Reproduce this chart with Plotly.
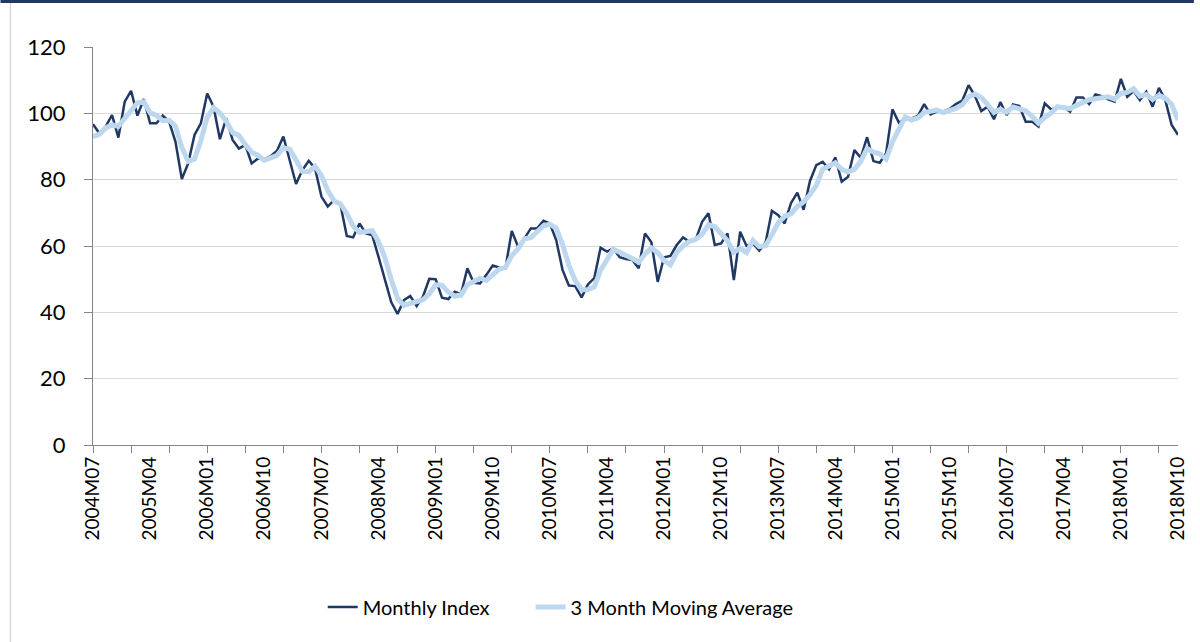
import plotly.graph_objects as go
import pandas as pd

# ---- data ----
months = pd.period_range("2004-07", "2018-10", freq="M").strftime("%YM%m").tolist()

monthly_index = [
    96.7, 94.0, 96.0, 99.5, 92.7, 103.5, 106.8, 99.3, 104.3, 97.0,
    97.0, 99.3, 97.5, 91.4, 80.2, 84.9, 93.5, 97.0, 106.0, 102.0,
    92.2, 98.5, 92.0, 89.4, 90.5, 84.9, 86.4, 86.2, 87.1, 88.7,
    93.0, 85.9, 78.7, 82.9, 85.7, 83.4, 74.9, 71.9, 73.9, 72.4,
    63.0, 62.6, 66.8, 63.8, 63.3, 56.7, 49.9, 43.1, 39.5, 43.7,
    44.9, 41.9, 44.7, 50.1, 50.0, 44.4, 44.0, 46.2, 45.5, 53.3,
    48.9, 48.7, 51.3, 54.1, 53.5, 53.3, 64.5, 59.8, 62.3, 65.3,
    65.3, 67.6, 66.8, 61.8, 52.8, 48.1, 47.9, 44.5, 48.4, 50.3,
    59.5, 58.3, 59.3, 56.6, 56.1, 55.8, 53.3, 63.8, 61.1, 49.2,
    56.6, 57.0, 60.3, 62.6, 61.3, 62.0, 67.3, 69.9, 60.3, 60.8,
    63.8, 49.7, 64.3, 60.0, 60.8, 58.6, 61.0, 70.6, 69.3, 66.8,
    72.9, 76.1, 70.9, 79.6, 84.4, 85.4, 83.1, 86.7, 79.4, 80.9,
    88.9, 86.6, 92.8, 85.6, 85.1, 88.0, 101.2, 97.2, 98.2, 98.5,
    99.2, 102.8, 99.7, 100.5, 100.5, 101.3, 102.8, 103.8, 108.5, 105.2,
    100.7, 102.0, 98.2, 103.4, 99.5, 102.7, 102.2, 97.5, 97.5, 96.0,
    103.0, 101.2, 101.7, 102.0, 100.5, 104.8, 104.8, 102.8, 105.7, 105.2,
    104.2, 103.5, 110.4, 105.0, 106.7, 104.0, 106.5, 102.0, 107.7, 104.0,
    96.5, 93.5,
]

moving_avg_3m = [
    93.0, 93.7, 95.6, 96.5, 96.1, 98.6, 101.0, 103.2, 103.5, 100.2,
    99.4, 97.8, 97.9, 96.1, 89.7, 85.5, 86.2, 91.8, 98.8, 101.7,
    100.1, 97.6, 94.2, 93.3, 90.6, 88.3, 87.3, 85.8, 86.6, 87.3,
    89.6, 89.2, 85.9, 82.5, 82.4, 84.0, 81.3, 76.7, 73.6, 72.7,
    69.8, 66.0, 64.1, 64.4, 64.6, 61.3, 56.6, 49.9, 44.2, 42.1,
    42.7, 43.5, 43.8, 45.6, 48.3, 48.2, 46.1, 44.9, 45.2, 48.3,
    49.2, 50.3, 49.6, 51.4, 53.0, 53.6, 57.1, 59.2, 62.2, 62.5,
    64.3, 66.1, 66.6, 65.4, 60.5, 54.2, 49.6, 46.8, 46.9, 47.7,
    52.7, 56.0, 59.0, 58.1, 57.3, 56.2, 55.1, 57.6, 59.4, 58.0,
    55.6, 54.3, 58.0, 60.0, 61.4, 62.0, 63.5, 66.4, 65.8, 63.7,
    61.6, 58.1, 59.3, 58.0, 61.7, 59.8, 60.1, 63.4, 67.0, 68.9,
    69.7, 71.9, 73.3, 75.5, 78.3, 83.1, 84.3, 85.1, 83.1, 82.3,
    83.1, 85.5, 89.4, 88.3, 87.8, 86.2, 91.4, 95.5, 98.9, 98.0,
    98.6, 100.2, 100.6, 101.0, 100.2, 100.8, 101.5, 102.6, 105.0, 105.8,
    104.8, 102.6, 100.3, 101.2, 100.4, 101.9, 101.5, 100.8, 99.1, 97.0,
    98.8, 100.1, 102.0, 101.6, 101.4, 102.4, 103.4, 104.1, 104.4, 104.6,
    105.0, 104.3, 106.0, 106.3, 107.4, 105.2, 105.7, 104.2, 105.4, 104.6,
    102.7, 98.0,
]

label_step = 9          # one label every 9 months
tick_mark_step = 6      # tick marks every 6 months
y_ticks = [0, 20, 40, 60, 80, 100, 120]

# ---- layout geometry ----
W, H = 1200, 642
L, R, T, B = 93, 16, 47, 197
plot_w = W - L - R
plot_h = H - T - B


def fx(p):
    return (p - L) / plot_w


def fy(p):
    return (H - B - p) / plot_h


x_pos = list(range(len(months)))
tick_idx = x_pos[::label_step]
tick_txt = [months[i] for i in tick_idx]

FONT = "Lato, 'Open Sans', sans-serif"
NAVY = "#1f3864"
LIGHT = "#bdd7ee"
AXIS = "#868686"
GRID = "#d9d9d9"

fig = go.Figure()
fig.add_trace(go.Scatter(
    x=x_pos, y=monthly_index, mode="lines", name="Monthly Index",
    line=dict(color=NAVY, width=2.5), customdata=months, legend="legend",
    hovertemplate="%{customdata}: %{y}<extra>Monthly Index</extra>",
))
fig.add_trace(go.Scatter(
    x=x_pos, y=moving_avg_3m, mode="lines", name="3 Month Moving Average",
    line=dict(color=LIGHT, width=5), customdata=months, legend="legend2",
    hovertemplate="%{customdata}: %{y}<extra>3 Month Moving Average</extra>",
))

leg_common = dict(
    orientation="h", y=fy(607), yanchor="middle", xanchor="left",
    font=dict(size=20, family=FONT, color="#000000"),
    bgcolor="rgba(0,0,0,0)", borderwidth=0,
)

fig.update_layout(
    width=W, height=H,
    margin=dict(l=L, r=R, t=T, b=B, pad=0),
    paper_bgcolor="white", plot_bgcolor="white",
    font=dict(family=FONT, color="#000000"),
    showlegend=True,
    legend=dict(x=fx(324), **leg_common),
    legend2=dict(x=fx(533), **leg_common),
    xaxis=dict(
        range=[0, len(months) - 1], showgrid=False, zeroline=False,
        showline=True, linecolor=AXIS, linewidth=1.3,
        tickmode="array", tickvals=tick_idx, ticktext=tick_txt,
        tickangle=-90, ticks="", tickfont=dict(size=19, family=FONT, color="#000000"),
        ticklabelstandoff=3,
        minor=dict(tick0=0, dtick=tick_mark_step, ticks="outside", ticklen=7,
                   tickcolor=AXIS, tickwidth=1.3, showgrid=False),
    ),
    yaxis=dict(
        range=[0, 120], tickmode="array", tickvals=y_ticks,
        showgrid=True, gridcolor=GRID, gridwidth=1.3, zeroline=False,
        showline=True, linecolor=AXIS, linewidth=1.3,
        ticks="outside", ticklen=8, tickcolor=AXIS, tickwidth=1.3,
        tickfont=dict(size=22, family=FONT, color="#000000"),
        ticklabelstandoff=14,
    ),
    shapes=[
        dict(type="line", xref="paper", yref="paper", x0=fx(0), x1=fx(W),
             y0=fy(1.5), y1=fy(1.5), line=dict(color=NAVY, width=3), layer="above"),
        dict(type="line", xref="paper", yref="paper", x0=fx(10), x1=fx(10),
             y0=fy(3), y1=fy(H), line=dict(color=GRID, width=1.5), layer="above"),
    ],
)

fig.write_html("out.html", config={"displayModeBar": False},
               post_script="document.body.style.margin='0';")
